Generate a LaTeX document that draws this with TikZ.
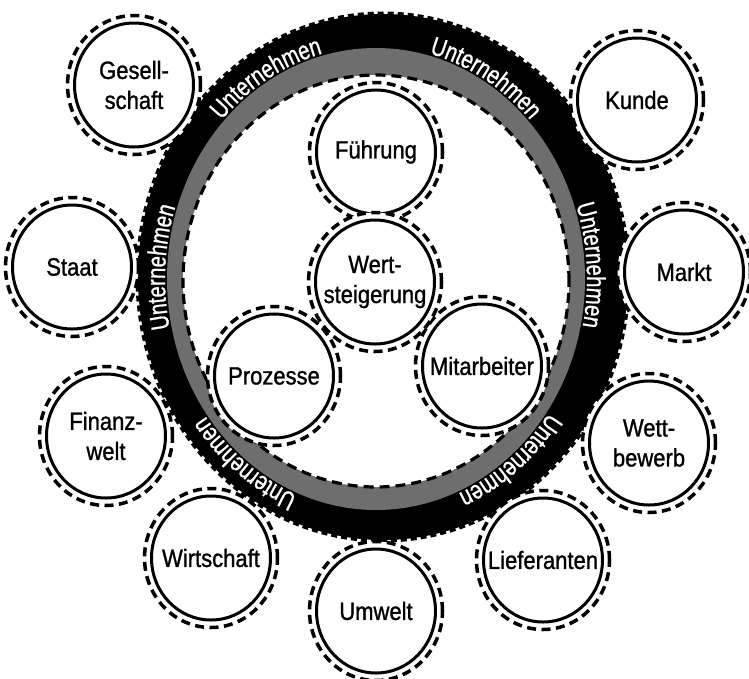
\documentclass[tikz,border=0pt]{standalone}
\usepackage{fontspec}
\setmainfont{Liberation Sans}
\newfontfamily\labfont[FakeStretch=0.88,FakeBold=1.1]{Liberation Sans}
\newfontfamily\untfont[FakeStretch=0.78,FakeBold=0.9]{Liberation Sans}
\usetikzlibrary{shapes.geometric,decorations.text}
\newcommand\mybub[4]{%
  \node[dashring] (#1D) at (#2,-#3) {};
  \node[bubble] (#1) at (#2,-#3) {};
  \node[lab] (#1T) at (#1) {#4};
}
\newcommand\myunt[2]{%
  \path[decorate, decoration={text along path, text align=center, text color=white,
    text={|\untfont\fontsize{26pt}{26pt}\selectfont|Unternehmen}}]
    (376,-279) ++(#1:211pt and 233pt) arc[start angle=#1, end angle=#2, x radius=211pt, y radius=233pt];
}
\begin{document}
\begin{tikzpicture}[x=1pt,y=1pt,
  dashring/.style={ellipse, draw, fill=white, line width=3.5pt, dash pattern=on 9pt off 5.5pt,
    minimum width=133pt, minimum height=139pt, inner sep=0pt},
  bubble/.style={ellipse, draw, fill=white, line width=3pt,
    minimum width=119pt, minimum height=124pt, inner sep=0pt},
  lab/.style={font=\labfont\fontsize{25pt}{30pt}\selectfont, align=center, inner sep=0pt},
  ringfill/.style={fill=black},
  ringedge/.style={draw=black, line width=3pt, dash pattern=on 6pt off 4pt},
  bandfill/.style={fill=black!57},
  inneredge/.style={draw=black, fill=white, line width=3.2pt, dash pattern=on 10pt off 6pt},
]
\useasboundingbox (0,0) rectangle (749,-678);
% ring
\path[ringfill] (383,-277) ellipse[x radius=245pt, y radius=263pt];
\path[ringedge] (383,-277) ellipse[x radius=246pt, y radius=264pt];
\path[bandfill] (376,-279) ellipse[x radius=209pt, y radius=231pt];
\path[inneredge] (376,-281) ellipse[x radius=193pt, y radius=206pt];
% ring labels
\myunt{160}{80}
\myunt{100}{20}
\myunt{217}{137}
\myunt{43.5}{-36.5}
\myunt{273}{193}
\myunt{348}{268}
% outer bubbles
\mybub{ges}{134}{85}{Gesell-\\schaft}
\mybub{kun}{637}{100}{Kunde}
\mybub{sta}{72}{267}{Staat}
\mybub{mar}{684}{272}{Markt}
\mybub{fin}{106}{436}{Finanz-\\welt}
\mybub{wet}{649}{443}{Wett-\\bewerb}
\mybub{wir}{211}{558}{Wirtschaft}
\mybub{umw}{376}{611}{Umwelt}
\mybub{lie}{543}{560}{Lieferanten}
% inner bubbles
\mybub{fue}{376}{152}{Führung}
\mybub{pro}{274}{376}{Prozesse}
\mybub{mit}{482}{366}{Mitarbeiter}
\mybub{wer}{375}{282}{Wert-\\steigerung}
\end{tikzpicture}
\end{document}
